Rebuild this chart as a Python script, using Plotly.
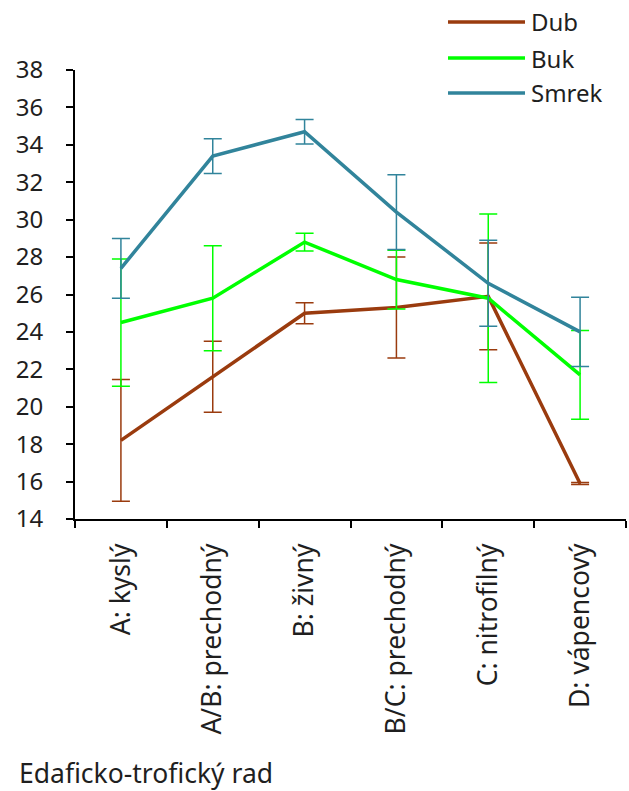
import plotly.graph_objects as go

# Categories (edaphic-trophic series)
categories = ["A: kyslý", "A/B: prechodný", "B: živný", "B/C: prechodný", "C: nitrofilný", "D: vápencový"]

# Mean values per tree species
dub = [18.2, 21.6, 25.0, 25.3, 25.9, 15.9]
buk = [24.5, 25.8, 28.8, 26.8, 25.8, 21.7]
smrek = [27.4, 33.4, 34.7, 30.4, 26.6, 24.0]

# Error bar half-widths
dub_err = [3.25, 1.9, 0.56, 2.7, 2.85, 0.05]
buk_err = [3.4, 2.8, 0.48, 1.57, 4.5, 2.37]
smrek_err = [1.6, 0.93, 0.65, 2.0, 2.3, 1.85]

series = [
    ("Dub", dub, dub_err, "#9A3B0E"),
    ("Buk", buk, buk_err, "#00FF00"),
    ("Smrek", smrek, smrek_err, "#31849B"),
]

FONT = "Noto Sans"
TXT = "#1f1f1f"

fig = go.Figure()
for name, vals, errs, col in series:
    fig.add_trace(go.Scatter(
        x=categories, y=vals, name=name, mode="lines",
        line=dict(color=col, width=3.5),
        error_y=dict(type="data", array=errs, visible=True,
                     color=col, thickness=1.5, width=9),
        showlegend=False,
    ))

# Plot-area geometry in pixels, used to place the hand-drawn legend
W, H = 629, 791
L, R, T, B = 75, 3, 70, 272
pw, ph = W - L - R, H - T - B


def px_x(x):
    return (x - L) / pw


def px_y(y):
    return (H - B - y) / ph


legend_rows = [22, 58, 93]
for (name, _, _, col), ry in zip(series, legend_rows):
    fig.add_shape(type="line", xref="paper", yref="paper",
                  x0=px_x(448), x1=px_x(525), y0=px_y(ry), y1=px_y(ry),
                  line=dict(color=col, width=3.5))
    fig.add_annotation(xref="paper", yref="paper", x=px_x(529), y=px_y(ry),
                       text=name, showarrow=False, xanchor="left", yanchor="middle",
                       font=dict(family=FONT, size=24, color=TXT))

fig.add_annotation(xref="paper", yref="paper", x=px_x(17), y=px_y(773),
                   text="Edaficko-trofický rad", showarrow=False,
                   xanchor="left", yanchor="middle",
                   font=dict(family=FONT, size=26.5, color=TXT))

fig.update_layout(
    width=W, height=H,
    margin=dict(l=L, r=R, t=T, b=B),
    paper_bgcolor="white", plot_bgcolor="white",
    font=dict(family=FONT, size=24, color=TXT),
    xaxis=dict(
        type="category", range=[-0.5, 5.5], tickson="boundaries",
        showline=True, linecolor="black", linewidth=2,
        ticks="outside", ticklen=7, tickcolor="black", tickwidth=2,
        tickangle=-90, showgrid=False, zeroline=False,
        ticklabelstandoff=12, tickfont=dict(size=26.5),
    ),
    yaxis=dict(
        range=[14, 38], dtick=2, tick0=14,
        showline=True, linecolor="black", linewidth=2,
        ticks="outside", ticklen=7, tickcolor="black", tickwidth=2,
        showgrid=False, zeroline=False,
        ticklabelstandoff=18, tickfont=dict(size=24),
    ),
)

fig.write_html("out.html")
